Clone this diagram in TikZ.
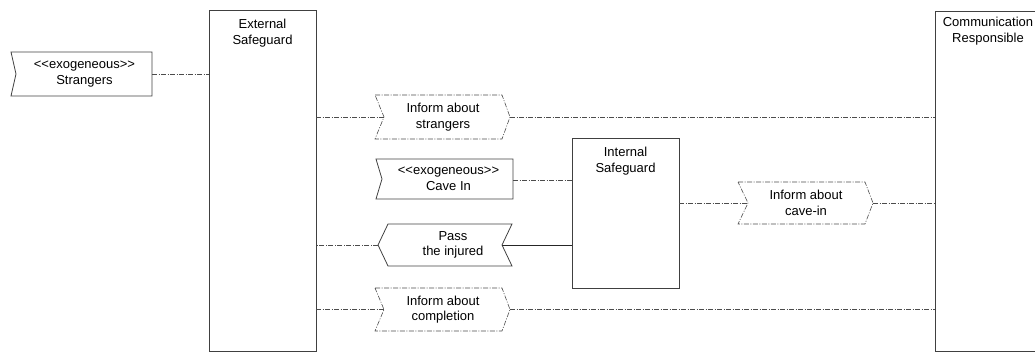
\documentclass[tikz,border=0pt]{standalone}
\usepackage{fontspec}
\setmainfont{Liberation Sans}
\newcommand{\exo}{<\kern0pt<exogeneous>\kern0pt>}
\begin{document}
\begin{tikzpicture}[x=1pt,y=-1pt,
  outl/.style={draw=black!75,line width=0.8pt},
  lbl/.style={font=\fontsize{13}{15.5}\selectfont,align=center,inner sep=0pt,anchor=base},
  sig/.style={font=\fontsize{13}{15.5}\selectfont,align=center,inner sep=0pt,rectangle},
  dd/.style={draw=black!70,line width=0.6pt,dash pattern=on 5pt off 1.5pt on 1pt off 1.5pt},
  solidline/.style={draw=black!85,line width=0.7pt}
]
\useasboundingbox (0,0) rectangle (1035,352);
\clip (0,0) rectangle (1035,352);
% lifeline boxes
\draw[outl] (209,10) rectangle (316,351.5);
\coordinate (extW) at (209,180);
\coordinate (extE) at (316,180);
\node[lbl] (extT) at (262.5,44.5) {External\\Safeguard};
\draw[outl] (935,11) rectangle (1045,351.5);
\coordinate (comW) at (935,180);
\node[lbl] (comT) at (988,42.5) {Communication\\Responsible};
\draw[outl] (572,138) rectangle (679,288);
\coordinate (intW) at (572,200);
\coordinate (intE) at (679,200);
\node[lbl] (intT) at (625.5,172.5) {Internal\\Safeguard};
% accept event: Strangers
\node[sig] (str) at (81.5,74) {};
\draw[outl] (11,52) -- (152,52) -- (152,96) -- (11,96) -- (16,74) -- cycle;
\node[sig] (strT) at (84.5,74) {\exo\\Strangers};
% accept event: Cave In
\node[sig] (cave) at (444.5,179) {};
\draw[outl] (376,159) -- (513,159) -- (513,199) -- (376,199) -- (382,179) -- cycle;
\node[sig] (caveT) at (448.5,179) {\exo\\Cave In};
% send signal: inform strangers
\node[sig] (infS) at (443,117) {Inform about\\strangers};
\coordinate (infSW) at (384,117);
\coordinate (infSE) at (510,117);
\draw[dd] (375,95) -- (502,95) -- (infSE) -- (502,139) -- (375,139) -- (infSW) -- cycle;
% send signal: inform completion
\node[sig] (infC) at (443,309.5) {Inform about\\completion};
\coordinate (infCW) at (384,309.5);
\coordinate (infCE) at (510,309.5);
\draw[dd] (375,288) -- (502,288) -- (infCE) -- (502,331) -- (375,331) -- (infCW) -- cycle;
% send signal: inform cave-in
\node[sig] (infV) at (806,203) {Inform about\\cave-in};
\coordinate (infVW) at (748,203);
\coordinate (infVE) at (873,203);
\draw[dd] (738,182) -- (865,182) -- (infVE) -- (865,224) -- (738,224) -- (infVW) -- cycle;
% send signal (left): pass the injured
\node[sig] (pass) at (453,245) {Pass\\the injured};
\coordinate (passW) at (378,245);
\coordinate (passE) at (502,245);
\draw[outl] (passW) -- (388,224) -- (512,224) -- (passE) -- (512,266) -- (388,266) -- cycle;
% connectors
\draw[dd] (152,74) -- (152,74 -| extW);
\draw[dd] (extE |- infSW) -- (infSW);
\draw[dd] (infSE) -- (infSE -| comW);
\draw[dd] (extE |- infCW) -- (infCW);
\draw[dd] (infCE) -- (infCE -| comW);
\draw[dd] (513,180) -- (intW |- 0,180);
\draw[dd] (passW) -- (passW -| extE);
\draw[solidline] (passE) -- (passE -| intW);
\draw[dd] (intE |- infVW) -- (infVW);
\draw[dd] (infVE) -- (infVE -| comW);
\end{tikzpicture}
\end{document}
